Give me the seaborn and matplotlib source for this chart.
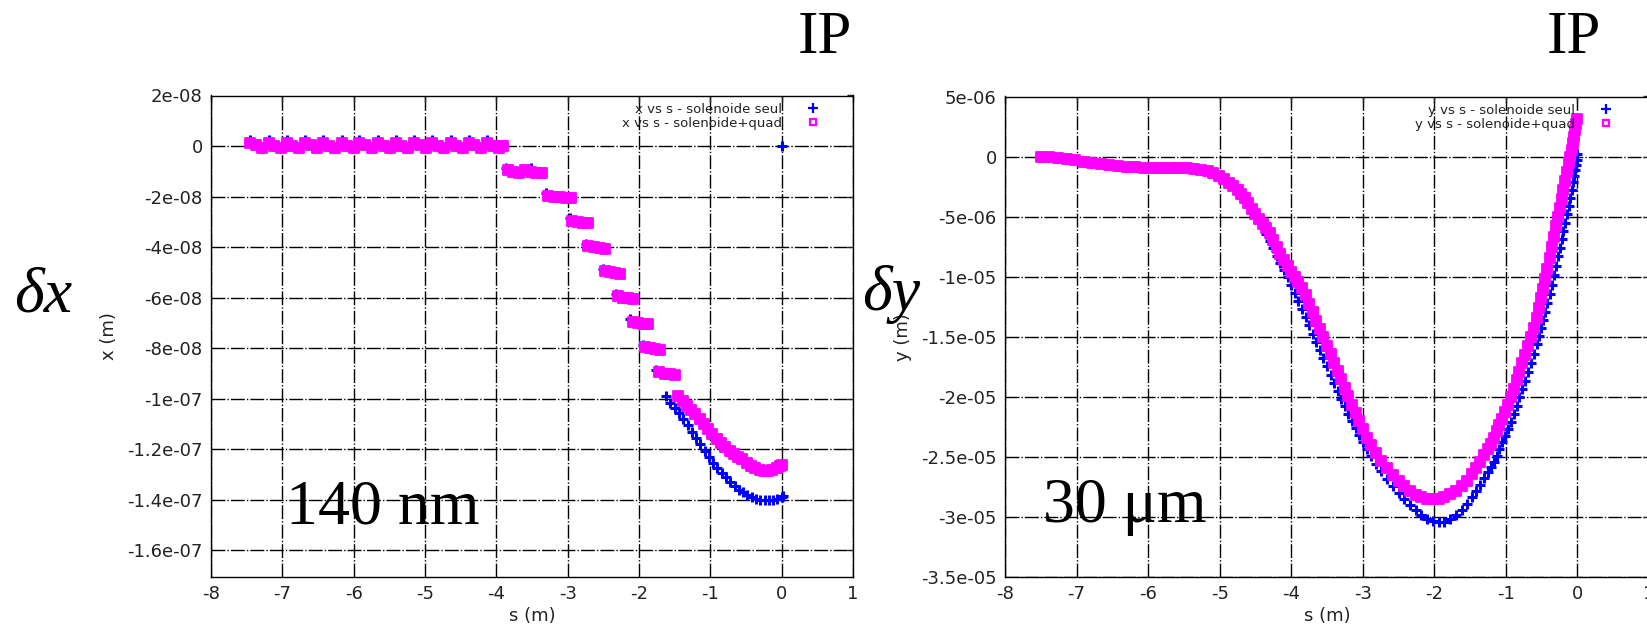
import numpy as np
import matplotlib
matplotlib.use("Agg")
import matplotlib.pyplot as plt
from matplotlib.lines import Line2D
import seaborn as sns

# ---- left panel: x vs s (values in nm) ----
lx_flat_s = [-7.45, -7.37, -7.28, -7.19, -7.11, -7.02, -6.94, -6.86, -6.77, -6.68, -6.60,
             -6.51, -6.43, -6.35, -6.26, -6.17, -6.09, -6.00, -5.92, -5.84, -5.75, -5.66,
             -5.58, -5.49, -5.41, -5.33, -5.24, -5.15, -5.07, -4.98, -4.90, -4.82, -4.73,
             -4.64, -4.56, -4.47, -4.39, -4.31, -4.22, -4.13, -4.05, -3.96, -3.90]
lx_flat_quad = [1.2, 0.3, -0.7, 1.1, 0.2, -0.8, 1.2, 0.2, -0.8, 1.1, 0.3, -0.7, 1.2, 0.2,
                -0.8, 1.1, 0.2, -0.8, 1.2, 0.3, -0.7, 1.1, 0.2, -0.8, 1.2, 0.2, -0.8, 1.1,
                0.3, -0.7, 1.2, 0.2, -0.8, 1.1, 0.2, -0.8, 1.2, 0.3, -0.7, 1.1, 0.2, -0.8, 0.0]
lx_flat_seul = [2.4, 0.3, -0.7, 2.3, 0.2, -0.8, 2.4, 0.2, -0.8, 2.3, 0.3, -0.7, 2.4, 0.2,
                -0.8, 2.3, 0.2, -0.8, 2.4, 0.3, -0.7, 2.3, 0.2, -0.8, 2.4, 0.2, -0.8, 2.3,
                0.3, -0.7, 2.4, 0.2, -0.8, 2.3, 0.2, -0.8, 2.4, 0.3, -0.7, 2.3, 0.2, -0.8, 0.6]

lx_quad_s = [-3.84, -3.76, -3.68, -3.60, -3.52, -3.44, -3.36,
             -3.27, -3.19, -3.11, -3.03, -2.95,
             -2.94, -2.86, -2.79, -2.72,
             -2.71, -2.63, -2.55, -2.47,
             -2.47, -2.40, -2.33, -2.27,
             -2.29, -2.22, -2.15, -2.08,
             -2.09, -2.02, -1.95, -1.87,
             -1.92, -1.85, -1.78, -1.70,
             -1.72, -1.64, -1.57, -1.49,
             -1.45, -1.39, -1.33, -1.27, -1.21, -1.15, -1.09, -1.03, -0.97, -0.91,
             -0.85, -0.79, -0.73, -0.67, -0.61, -0.55, -0.49, -0.43, -0.37, -0.31,
             -0.25, -0.19, -0.13, -0.07, -0.02, 0.01]
lx_quad_v = [-9.5, -10.2, -10.6, -9.6, -10.1, -10.6, -10.8,
             -19.6, -20.0, -20.3, -20.5, -20.7,
             -29.5, -30.0, -30.3, -30.5,
             -39.5, -40.0, -40.4, -40.6,
             -49.5, -50.0, -50.3, -50.5,
             -59.5, -60.0, -60.3, -60.5,
             -69.5, -70.0, -70.3, -70.5,
             -79.5, -80.0, -80.3, -80.5,
             -89.5, -90.0, -90.3, -90.5,
             -99.0, -101.0, -103.0, -104.5, -106.0, -108.0, -110.0, -112.0, -114.0, -116.0,
             -117.5, -119.0, -120.5, -122.0, -123.0, -124.0, -125.5, -126.5, -127.5, -128.0,
             -128.5, -128.5, -128.0, -127.5, -126.5, -126.0]

lx_seul_s = [-3.87, -3.76, -3.64, -3.52, -3.40,
             -3.30, -3.19, -3.07, -2.96,
             -2.97, -2.86, -2.75,
             -2.74, -2.63, -2.50,
             -2.50, -2.40, -2.29,
             -2.32, -2.22, -2.10,
             -2.12, -2.02, -1.90,
             -1.95, -1.85, -1.73,
             -1.76, -1.64,
             -1.62, -1.56, -1.50, -1.44, -1.38, -1.32, -1.26, -1.20, -1.14, -1.08,
             -1.02, -0.96, -0.90, -0.84, -0.78, -0.72, -0.66, -0.60, -0.54, -0.48,
             -0.42, -0.36, -0.30, -0.24, -0.18, -0.12, -0.06, 0.00, 0.02,
             0.00]
lx_seul_v = [-8.6, -10.0, -10.4, -8.8, -10.5,
             -18.6, -20.0, -20.3, -20.6,
             -28.6, -30.0, -30.4,
             -38.6, -40.0, -40.5,
             -48.6, -50.0, -50.4,
             -58.6, -60.0, -60.4,
             -68.6, -70.0, -70.4,
             -78.6, -80.0, -80.4,
             -88.6, -90.0,
             -99.0, -101.5, -103.5, -105.5, -108.0, -110.5, -113.0, -115.5, -118.0, -120.5,
             -123.0, -125.5, -127.5, -129.5, -131.0, -133.0, -134.5, -136.0, -137.0, -138.0,
             -138.8, -139.5, -139.9, -140.0, -140.0, -139.9, -139.5, -138.8, -138.5,
             0.0]

# ---- right panel: y vs s (values in um) ----
ry_flat_s = [-7.50, -7.38, -7.26, -7.14, -7.02, -6.90, -6.78, -6.66, -6.54, -6.42, -6.30,
             -6.18, -6.06, -5.94, -5.82, -5.70, -5.58, -5.46, -5.36, -5.26, -5.17, -5.09,
             -5.01, -4.94, -4.87, -4.81, -4.75, -4.70, -4.65, -4.60]
ry_flat_v = [0.00, -0.03, -0.10, -0.20, -0.32, -0.42, -0.52, -0.61, -0.69, -0.77, -0.83,
             -0.88, -0.93, -0.96, -0.97, -0.97, -0.97, -0.98, -1.02, -1.10, -1.22, -1.40,
             -1.62, -1.88, -2.18, -2.48, -2.80, -3.12, -3.48, -3.90]

ry_quad_s = [-4.55, -4.50, -4.45, -4.40, -4.35, -4.30, -4.25, -4.20, -4.15, -4.10, -4.05,
             -4.00, -3.95, -3.90, -3.85, -3.80, -3.75, -3.70, -3.65, -3.60, -3.55, -3.50,
             -3.45, -3.40, -3.35, -3.30, -3.25, -3.20, -3.15, -3.10, -3.05, -3.00, -2.94,
             -2.88, -2.81, -2.74, -2.66, -2.58, -2.50, -2.42, -2.34, -2.26, -2.18, -2.10,
             -2.02, -1.94, -1.86, -1.78, -1.70, -1.62, -1.55, -1.48, -1.42, -1.36, -1.30,
             -1.25, -1.21, -1.17, -1.13, -1.09, -1.05, -1.01, -0.97, -0.93, -0.89, -0.85,
             -0.81, -0.77, -0.73, -0.69, -0.65, -0.61, -0.57, -0.54, -0.51, -0.48, -0.45,
             -0.42, -0.39, -0.36, -0.33, -0.30, -0.27, -0.245, -0.22, -0.195, -0.17, -0.145,
             -0.12, -0.10, -0.08, -0.06, -0.045, -0.03, -0.02, -0.01]
ry_quad_v = [-4.35, -4.78, -5.18, -5.58, -5.97, -6.40, -6.95, -7.52, -8.08, -8.62, -9.12,
             -9.58, -10.03, -10.48, -10.95, -11.55, -12.25, -12.95, -13.65, -14.35, -15.05, -15.75,
             -16.45, -17.15, -17.85, -18.55, -19.25, -19.95, -20.65, -21.35, -22.05, -22.70, -23.40,
             -24.05, -24.70, -25.35, -25.95, -26.50, -27.00, -27.45, -27.85, -28.15, -28.35, -28.48,
             -28.52, -28.48, -28.35, -28.12, -27.82, -27.42, -26.98, -26.45, -25.95, -25.42, -24.85,
             -24.35, -23.90, -23.40, -22.85, -22.35, -21.85, -21.30, -20.70, -20.05, -19.35, -18.60,
             -17.90, -17.20, -16.50, -15.80, -15.00, -14.25, -13.40, -12.60, -11.80, -11.00, -10.20,
             -9.35, -8.45, -7.55, -6.70, -5.80, -5.00, -4.25, -3.50, -2.75, -2.00, -1.25,
             -0.55, 0.00, 0.55, 1.10, 1.60, 2.20, 2.70, 3.10]

ry_seul_s = [-4.55, -4.50, -4.45, -4.40, -4.35, -4.30, -4.25, -4.20, -4.15, -4.10, -4.05,
             -4.00, -3.95, -3.90, -3.85, -3.80, -3.75, -3.70, -3.65, -3.60, -3.55, -3.50,
             -3.45, -3.40, -3.35, -3.30, -3.25, -3.20, -3.15, -3.10, -3.05, -3.00, -2.94,
             -2.88, -2.81, -2.74, -2.66, -2.58, -2.50, -2.42, -2.34, -2.26, -2.18, -2.10,
             -2.02, -1.94, -1.86, -1.78, -1.70, -1.62, -1.55, -1.48, -1.42, -1.36, -1.30,
             -1.25, -1.21, -1.17, -1.13, -1.09, -1.05, -1.01, -0.97, -0.93, -0.89, -0.85,
             -0.81, -0.77, -0.73, -0.69, -0.65, -0.61, -0.57, -0.54, -0.51, -0.48, -0.45,
             -0.42, -0.39, -0.36, -0.33, -0.30, -0.27, -0.245, -0.22, -0.195, -0.17, -0.145,
             -0.12, -0.10, -0.08, -0.06, -0.045, -0.03, -0.02, -0.01, 0.00]
ry_seul_v = [-4.45, -4.90, -5.30, -5.85, -6.45, -7.05, -7.65, -8.25, -8.85, -9.45, -10.05,
             -10.70, -11.35, -12.00, -12.65, -13.35, -14.05, -14.75, -15.45, -16.10, -16.80, -17.45,
             -18.15, -18.85, -19.50, -20.15, -20.80, -21.40, -22.00, -22.60, -23.20, -23.75, -24.35,
             -24.95, -25.60, -26.20, -26.85, -27.45, -28.00, -28.50, -29.00, -29.45, -29.85, -30.15,
             -30.35, -30.45, -30.40, -30.20, -29.85, -29.40, -28.90, -28.35, -27.85, -27.30, -26.75,
             -26.25, -25.85, -25.40, -24.90, -24.35, -23.80, -23.25, -22.70, -22.10, -21.45, -20.75,
             -20.05, -19.35, -18.65, -17.95, -17.20, -16.40, -15.60, -14.95, -14.30, -13.60, -12.90,
             -12.20, -11.45, -10.70, -9.90, -9.10, -8.30, -7.60, -6.90, -6.20, -5.50, -4.80,
             -4.10, -3.45, -2.80, -2.15, -1.60, -1.10, -0.70, -0.25, 0.20]

# ---- axes ticks / labels ----
s_ticks = [-8, -7, -6, -5, -4, -3, -2, -1, 0, 1]
s_labels = ["-8", "-7", "-6", "-5", "-4", "-3", "-2", "-1", "0", "1"]
x_ticks = [2e-8, 0, -2e-8, -4e-8, -6e-8, -8e-8, -1e-7, -1.2e-7, -1.4e-7, -1.6e-7]
x_labels = ["2e-08", "0", "-2e-08", "-4e-08", "-6e-08", "-8e-08", "-1e-07", "-1.2e-07",
            "-1.4e-07", "-1.6e-07"]
y_ticks = [5e-6, 0, -5e-6, -1e-5, -1.5e-5, -2e-5, -2.5e-5, -3e-5, -3.5e-5]
y_labels = ["5e-06", "0", "-5e-06", "-1e-05", "-1.5e-05", "-2e-05", "-2.5e-05", "-3e-05",
            "-3.5e-05"]

BLUE = "#0000ff"
MAGENTA = "#ff00ff"

sns.set_style("white")
plt.rcParams["font.family"] = ["DejaVu Sans"]
plt.rcParams["text.color"] = "black"

W, H = 1647, 627
fig = plt.figure(figsize=(W / 100, H / 100), dpi=100)
ax1 = fig.add_axes([211 / W, 50 / H, 642 / W, 481.5 / H])
ax2 = fig.add_axes([1005 / W, 50 / H, 644 / W, 480.5 / H])


def draw(ax, s_seul, v_seul, s_quad, v_quad, scale):
    sns.scatterplot(x=s_seul, y=np.array(v_seul) * scale, ax=ax, marker="+", color=BLUE,
                    s=55, linewidth=2.2, legend=False, zorder=3)
    sns.scatterplot(x=s_quad, y=np.array(v_quad) * scale, ax=ax, marker="s", color=MAGENTA,
                    edgecolor=MAGENTA, s=44, linewidth=1.3, legend=False, zorder=4)


draw(ax1, lx_flat_s + lx_seul_s, lx_flat_seul + lx_seul_v,
     lx_flat_s + lx_quad_s, lx_flat_quad + lx_quad_v, 1e-9)
draw(ax2, ry_flat_s + ry_seul_s, ry_flat_v + ry_seul_v,
     ry_flat_s + ry_quad_s, ry_flat_v + ry_quad_v, 1e-6)

ax1.set_ylim(-1.705e-7, 2e-8)
ax2.set_ylim(-3.5e-5, 5e-6)

for ax, yt, yl, ylab, tag in [(ax1, x_ticks, x_labels, "x (m)", "x"),
                              (ax2, y_ticks, y_labels, "y (m)", "y")]:
    ax.set_xlim(-8, 1)
    ax.set_xticks(s_ticks)
    ax.set_xticklabels(s_labels)
    ax.set_yticks(yt)
    ax.set_yticklabels(yl)
    ax.set_axisbelow(True)
    ax.grid(True, color="black", linewidth=1.0, linestyle=(0, (10, 1.5, 1, 1.5)))
    for sp in ax.spines.values():
        sp.set_color("black")
        sp.set_linewidth(1.0)
    ax.tick_params(direction="in", length=4, width=1, top=True, right=True,
                   labelsize=13, pad=6, labelcolor="#222222")
    ax.set_xlabel("s (m)", fontsize=13, color="#222222")
    ax.set_ylabel(ylab, fontsize=13, color="#222222")
    ax.xaxis.set_label_coords(0.5, -0.062)
    ax.yaxis.set_label_coords(-0.145, 0.5)

    handles = [Line2D([], [], ls="none", marker="+", color=BLUE, markersize=6.5, mew=1.6),
               Line2D([], [], ls="none", marker="s", mfc="white", mec=MAGENTA,
                      markersize=5, mew=1.6)]
    labels = [f"{tag} vs s - solenoide seul", f"{tag} vs s - solenoide+quad"]
    anchor_x = 0.948 if tag == "x" else 0.944
    leg = ax.legend(handles, labels, loc="upper right", bbox_to_anchor=(anchor_x, 0.985),
                    markerfirst=False, frameon=False, fontsize=9.5, handlelength=1.0,
                    handletextpad=1.85, labelspacing=0.1, borderpad=0, borderaxespad=0)
    for t in leg.get_texts():
        t.set_color("#222222")

serif = ["Liberation Serif", "DejaVu Serif"]
fig.text(825 / W, 1 - 53 / H, "IP", fontsize=44, family=serif, color="black",
         ha="center", va="baseline")
fig.text(1574 / W, 1 - 53 / H, "IP", fontsize=44, family=serif, color="black",
         ha="center", va="baseline")
fig.text(43 / W, 1 - 311 / H, "δx", fontsize=46, family=serif, style="italic",
         color="black", ha="center", va="baseline")
fig.text(891 / W, 1 - 310 / H, "δy", fontsize=46, family=serif, style="italic",
         color="black", ha="center", va="baseline")
fig.text(383 / W, 1 - 523 / H, "140 nm", fontsize=46, family=serif, color="black",
         ha="center", va="baseline")
fig.text(1125 / W, 1 - 522 / H, "30 μm", fontsize=46, family=serif, color="black",
         ha="center", va="baseline")

fig.savefig("out.png", dpi=100)
